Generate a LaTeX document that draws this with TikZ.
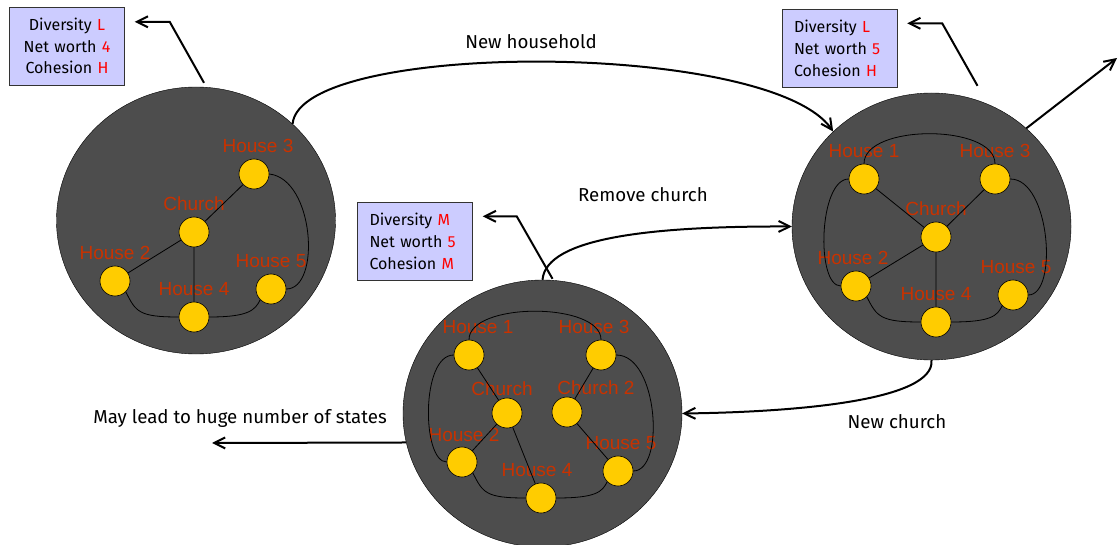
\documentclass[tikz,border=0pt]{standalone}
\usepackage{fontspec}
\setmainfont{Fira Sans}
\newfontfamily\lblfont{Liberation Sans}
\usetikzlibrary{shapes,arrows.meta,calc}
\definecolor{hallgray}{HTML}{4D4D4D}
\definecolor{houseyellow}{HTML}{FFCC00}
\definecolor{lblred}{HTML}{C83200}
\definecolor{boxfill}{HTML}{CCCCFF}
\definecolor{boxline}{HTML}{333333}

\begin{document}
\begin{tikzpicture}[x=1pt,y=-1pt]
\tikzstyle{state}=[ellipse,draw,fill=hallgray,minimum width=279pt,minimum height=267pt,inner sep=0pt]
\tikzstyle{house}=[circle,draw,fill=houseyellow,minimum size=30pt,inner sep=0pt,line width=0.6pt]
\tikzstyle{lbl}=[text=lblred,inner sep=0pt,yshift=6pt,font=\lblfont\fontsize{19}{19}\selectfont]
\tikzstyle{every label}=[lbl]
\tikzstyle{info}=[rectangle,draw=boxline,fill=boxfill,text width=91pt,inner xsep=12pt,
  minimum height=78pt,font=\fontsize{16}{21.7}\selectfont]
\tikzstyle{tie}=[line width=0.8pt]
\tikzstyle{move}=[line width=2pt,-{Straight Barb[length=11pt,width=11pt]}]
\tikzstyle{caption}=[font=\fontsize{18.7}{20}\selectfont,inner sep=0pt]
\useasboundingbox (0,0) rectangle (1118,545);
\clip (0,0) rectangle (1118,545);

% states
\node[state] (stA) at (196,220.5) {};
\node[state] (stB) at (931.5,226.5) {};
\node[state] (stC) at (542.5,413.5) {};

% first state
\node[house,label={[xshift=4pt]above:House 3}] (A3) at (254,174) {};
\node[house,label=above:Church] (Ach) at (194,232) {};
\node[house,label=above:House 2] (A2) at (115,281) {};
\node[house,label=above:House 4] (A4) at (194,317) {};
\node[house,label=above:House 5] (A5) at (271,289) {};
\draw[tie] (A3) -- (Ach) -- (A2) (Ach) -- (A4);
\draw[tie] (A3.east) .. controls +(45,5) and +(35,0) .. (A5.east);
\draw[tie] (A2.south east) .. controls +(10,20) and +(-40,0) .. (A4.west);
\draw[tie] (A4.east) .. controls +(40,0) and +(-5,10) .. (A5.south west);

% second state
\node[house,label=above:House 1] (B1) at (864,179) {};
\node[house,label=above:House 3] (B3) at (995,179) {};
\node[house,label=above:Church] (Bch) at (936,237) {};
\node[house,label={[xshift=-3pt]above:House 2}] (B2) at (856,286) {};
\node[house,label=above:House 4] (B4) at (936,322) {};
\node[house,label={[xshift=3pt]above:House 5}] (B5) at (1013,295) {};
\draw[tie] (B1) -- (Bch) -- (B3) (Bch) -- (B2) (Bch) -- (B4);
\draw[tie] (B1.north) .. controls +(0,-40) and +(0,-40) .. (B3.north);
\draw[tie] (B1.west) .. controls +(-30,0) and +(-25,0) .. (B2.west);
\draw[tie] (B3.east) .. controls +(40,0) and +(30,0) .. (B5.east);
\draw[tie] (B2.south east) .. controls +(10,20) and +(-40,0) .. (B4.west);
\draw[tie] (B4.east) .. controls +(40,0) and +(-5,10) .. (B5.south west);

% third state
\node[house,label={[xshift=9pt]above:House 1}] (C1) at (469,355) {};
\node[house,label={[xshift=-7pt]above:House 3}] (C3) at (601,355) {};
\node[house,label={[xshift=-5pt,yshift=-4pt]above:Church}] (Cch) at (507,413) {};
\node[house,label={[xshift=29pt,yshift=-4pt]above:Church 2}] (Cch2) at (567,412) {};
\node[house,label={[xshift=2pt,yshift=-1pt]above:House 2}] (C2) at (462,462) {};
\node[house,label={[xshift=-4pt]above:House 4}] (C4) at (541,498) {};
\node[house,label={[xshift=3pt]above:House 5}] (C5) at (618,471) {};
\draw[tie] (C1) -- (Cch) -- (C4) (C2) -- (Cch) (C3) -- (Cch2) -- (C5);
\draw[tie] (C1.north) .. controls +(0,-38) and +(0,-38) .. (C3.north);
\draw[tie] (C1.west) .. controls +(-33,0) and +(-25,0) .. (C2.west);
\draw[tie] (C3.east) .. controls +(42,0) and +(32,0) .. (C5.east);
\draw[tie] (C2.south east) .. controls +(10,20) and +(-40,0) .. (C4.west);
\draw[tie] (C4.east) .. controls +(40,0) and +(-5,10) .. (C5.south west);

% attributes
\node[info,align=center] (infA) at (67,46) {Diversity \textcolor{red}{L}\\Net worth \textcolor{red}{4}\\Cohesion \textcolor{red}{H}};
\node[info,align=left] (infB) at (839.5,48.5) {Diversity \textcolor{red}{L}\\Net worth \textcolor{red}{5}\\Cohesion \textcolor{red}{H}};
\node[info,align=left] (infC) at (415,241.5) {Diversity \textcolor{red}{M}\\Net worth \textcolor{red}{5}\\Cohesion \textcolor{red}{M}};
\draw[move] ($(stA.north)+(8,-4)$) -- ($(infA.north east)+(45,15)$) -- ($(infA.north east)+(10,15)$);
\draw[move] ($(stB.north)+(46,-7)$) -- ($(infB.north east)+(45,14)$) -- ($(infB.north east)+(10,14)$);
\draw[move] ($(stC.north)+(10,-1)$) -- ($(infC.north east)+(44,14)$) -- ($(infC.north east)+(10,14)$);

% transitions
\coordinate (away) at (1117,58);
\coordinate (more) at (212,443);
\draw[move] (stA.45) .. controls (300,40) and (770,40) .. (stB.136);
\draw[move] (stC.north) .. controls (546,238) and (650,226) .. (stB.west);
\draw[move] (stB.south) .. controls (935,400) and (800,412) .. (stC.east);
\draw[move] (stB.46) -- (away);
\draw[move] (stC.192) -- (more);
\node[caption] (tNew) at (531,42) {New household};
\node[caption] (tRem) at (643,195) {Remove church};
\node[caption] (tChu) at (897,422) {New church};
\node[caption] (tMay) at (240,418) {May lead to huge number of states};
\end{tikzpicture}
\end{document}
